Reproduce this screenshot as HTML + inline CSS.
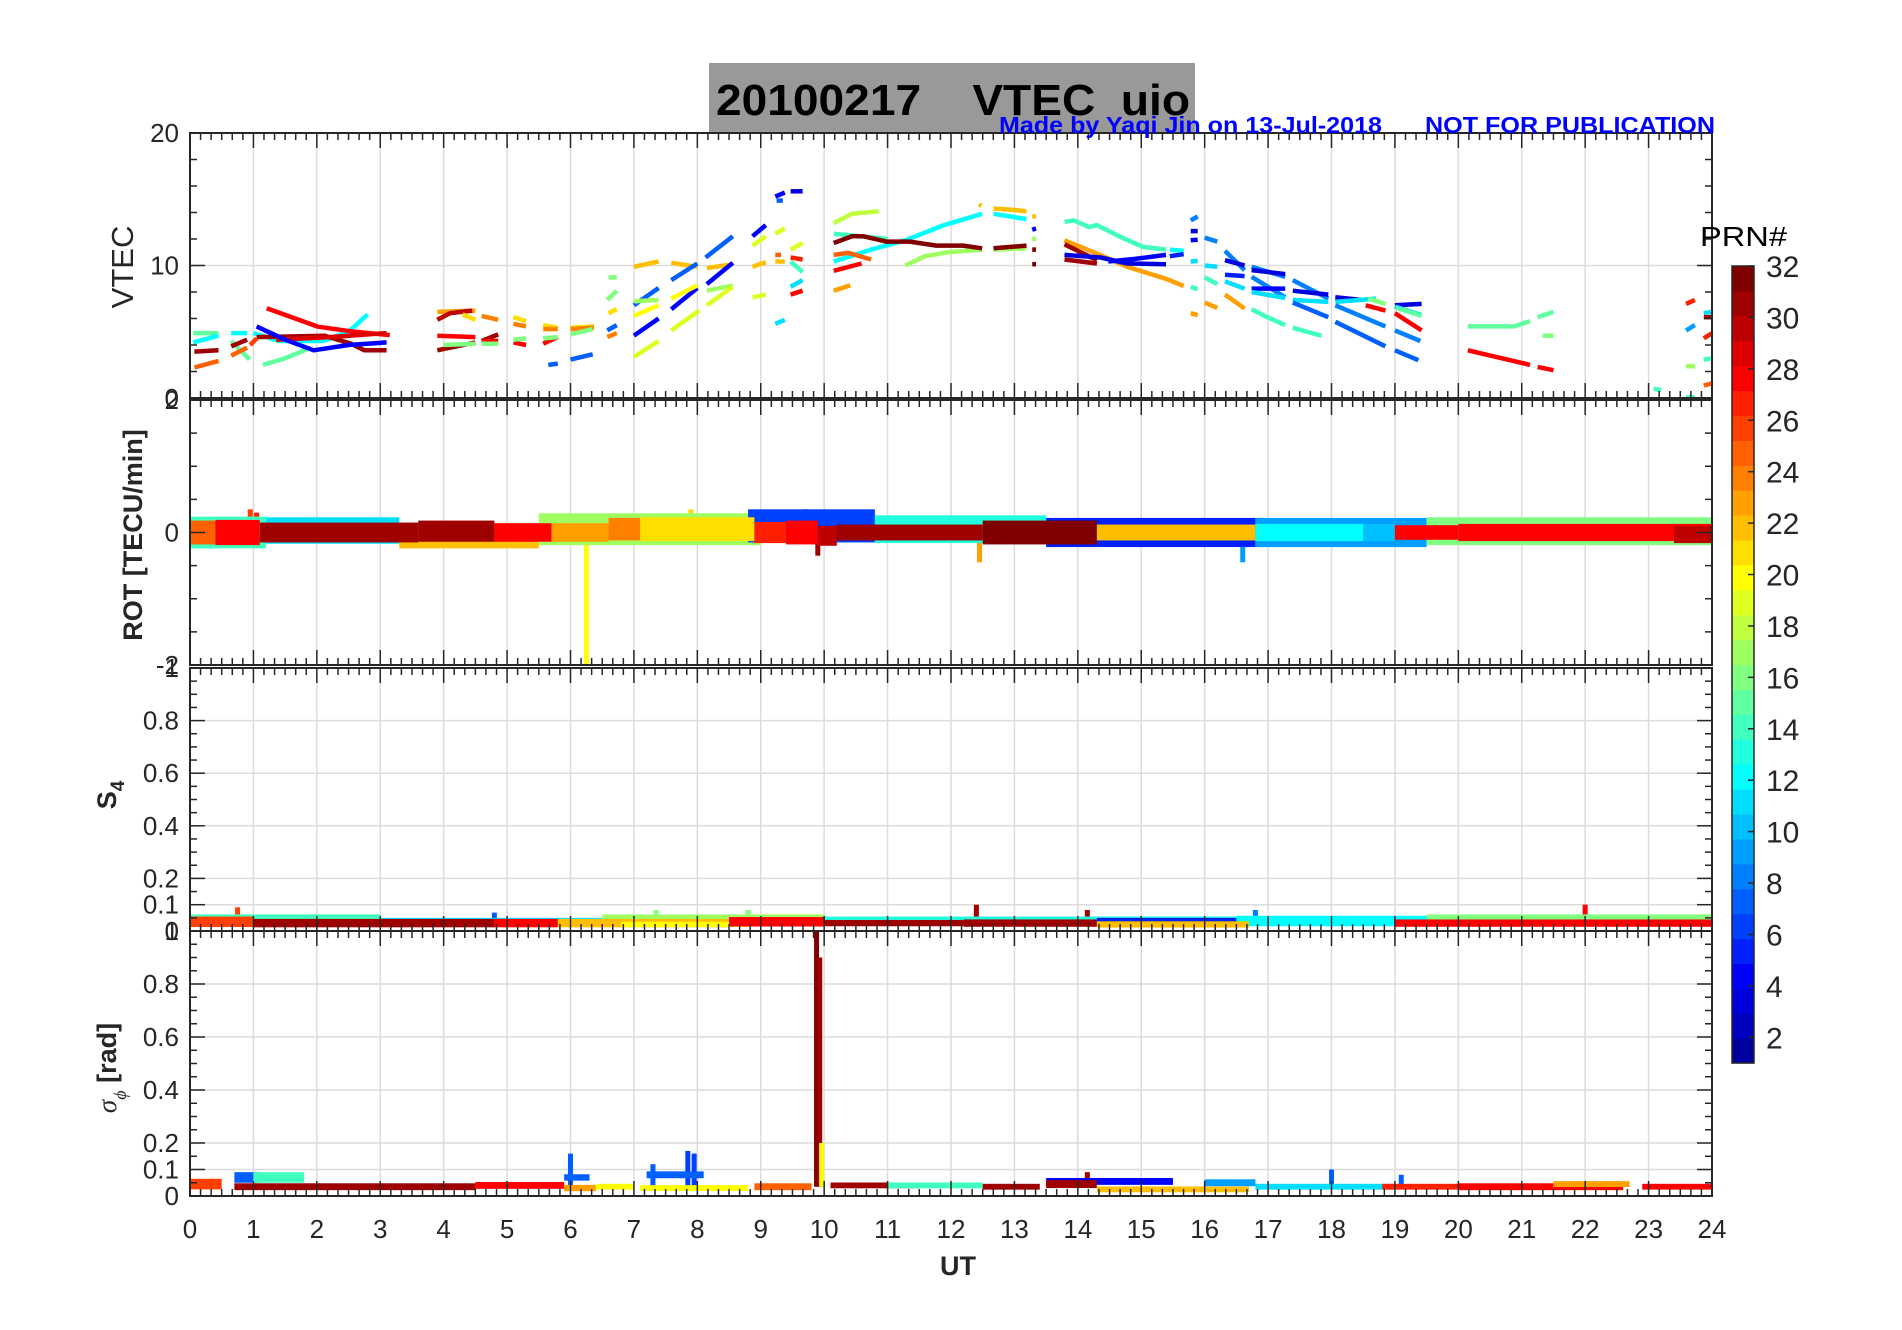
<!DOCTYPE html>
<html><head><meta charset="utf-8"><style>
html,body{margin:0;padding:0;background:#fff;}
svg{display:block;font-family:"Liberation Sans",sans-serif;}
</style></head>
<body>
<svg id="fig" width="1902" height="1330" viewBox="0 0 1902 1330" xmlns="http://www.w3.org/2000/svg">
<rect x="0" y="0" width="1902" height="1330" fill="#fff"/>
<rect x="709" y="63" width="486" height="70" fill="#999999"/>
<text x="716" y="115" font-size="44" font-weight="bold" fill="#000" textLength="474" lengthAdjust="spacingAndGlyphs" xml:space="preserve">20100217    VTEC  uio</text>
<g id="plots"></g>
<text x="999" y="133" font-size="23" font-weight="bold" fill="#0000ff" textLength="383" lengthAdjust="spacingAndGlyphs">Made by Yaqi Jin on 13-Jul-2018</text>
<text x="1425" y="133" font-size="23" font-weight="bold" fill="#0000ff" textLength="290" lengthAdjust="spacingAndGlyphs">NOT FOR PUBLICATION</text>
<text transform="translate(133,267) rotate(-90)" text-anchor="middle" font-size="31" fill="#262626">VTEC</text>
<text transform="translate(142,535) rotate(-90)" text-anchor="middle" font-size="27" font-weight="bold" fill="#262626">ROT [TECU/min]</text>
<text transform="translate(116,795) rotate(-90)" text-anchor="middle" font-size="27" font-weight="bold" fill="#262626">S<tspan font-size="19" dy="8">4</tspan></text>
<text transform="translate(116,1068) rotate(-90)" text-anchor="middle" font-size="27" font-weight="bold" fill="#262626"><tspan font-style="italic" font-weight="normal" font-family="Liberation Serif, serif">σ</tspan><tspan font-size="18" dy="10" font-style="italic" font-weight="normal" font-family="Liberation Serif, serif">ϕ</tspan><tspan dy="-10"> [rad]</tspan></text>
<text x="958" y="1275" text-anchor="middle" font-size="27" font-weight="bold" fill="#262626">UT</text>
<text x="1700" y="246" font-size="28" fill="#000" textLength="87" lengthAdjust="spacingAndGlyphs">PRN#</text>
</svg>
<script>
// ---------- data ----------
const hourTicks = [0,1,2,3,4,5,6,7,8,9,10,11,12,13,14,15,16,17,18,19,20,21,22,23,24];
const prnTicks = [2,4,6,8,10,12,14,16,18,20,22,24,26,28,30,32];
const vtecTicks = [0,10,20];
const rotTicks = [-2,0,2];
const s4Ticks = [0,0.1,0.2,0.4,0.6,0.8,1];
const sigmaTicks = [0,0.1,0.2,0.4,0.6,0.8,1];
// VTEC arcs: [prn, h1, v1, h2, v2, ...]
const vtecSegments = [
[15,0.05,4.9,0.45,4.9],[12,0.05,4.2,0.45,4.7],[31,0.07,3.5,0.45,3.6],[25,0.07,2.3,0.45,2.8],
[12,0.65,4.9,0.9,4.9],[15,0.65,4.3,0.94,2.9],[31,0.65,3.9,0.9,4.4],[25,0.65,3.2,0.9,3.8],[26,0.95,4.0,1.05,4.5],
[12,1.0,4.9,1.4,4.3,2.1,4.3,2.5,5.0,2.8,6.3],[15,1.15,2.5,1.5,3.0,1.85,3.7],
[28,1.21,6.77,2.02,5.38,2.6,5.0,3.15,4.75],[31,1.05,4.6,2.12,4.7,2.54,4.1,2.75,3.6,3.1,3.6],
[29,1.36,4.4,2.2,4.6,3.1,4.9],[4,1.05,5.4,1.5,4.4,1.95,3.6,2.5,4.0,3.1,4.2],
[23,3.9,6.5,4.5,6.6],[30,3.9,5.9,4.1,6.4,4.45,6.6],[21,4.3,6.3,4.5,5.9],[24,4.6,6.2,4.86,5.9],
[21,5.1,6.1,5.3,5.8],[24,5.1,5.6,5.3,5.4],[21,5.57,5.5,5.8,5.3],[24,5.57,5.2,5.8,5.2],
[21,6.0,5.3,6.37,5.4],[24,6.0,5.2,6.37,5.3],[31,3.9,3.6,4.5,4.2],[31,4.6,4.3,4.86,4.8],
[28,3.9,4.7,4.5,4.6],[28,4.6,4.3,4.86,4.3],[28,5.1,4.2,5.3,4.0],[28,5.57,4.1,5.8,4.6],
[16,4.0,4.0,4.5,4.1],[16,4.6,4.1,4.86,4.1],[16,5.1,4.4,5.3,4.5],[16,5.57,4.5,5.8,4.6],[16,6.0,4.8,6.35,5.2],
[7,5.65,2.5,5.8,2.6],[7,6.0,2.9,6.35,3.3],
[16,6.6,9.1,6.73,9.1],[16,6.58,7.4,6.73,8.1],[21,6.6,6.4,6.73,6.7],[7,6.58,5.1,6.73,5.5],[24,6.58,4.6,6.73,4.9],
[22,7.0,9.9,7.39,10.3],[22,7.59,10.2,8.0,9.9],[22,8.15,9.8,8.56,10.1],[22,8.87,9.9,9.08,10.25],[22,9.23,10.3,9.38,10.3],
[7,7.0,7.0,7.39,8.3],[7,7.59,8.9,8.0,10.15],[7,8.13,10.6,8.56,12.2],
[4,7.0,4.7,7.39,6.0],[4,7.59,6.7,8.0,8.3],[4,8.15,8.6,8.56,10.2],[4,8.87,12.2,9.08,13.05],
[17,7.0,7.3,7.39,7.4],[17,8.15,8.1,8.56,8.5],[20,7.0,6.2,7.39,7.0],[20,7.59,7.5,8.0,8.5],
[19,7.0,3.1,7.39,4.3],[19,7.59,5.1,8.03,6.6],[19,8.15,7.0,8.56,8.4],[19,8.87,7.6,9.08,7.8],
[19,8.87,11.5,9.08,12.2],[19,9.23,12.4,9.38,12.8],[19,9.47,11.2,9.66,11.7],
[4,9.23,15.2,9.38,15.5],[3,9.47,15.6,9.66,15.6],[7,9.25,14.9,9.35,14.9],[25,9.23,10.8,9.32,10.8],
[27,9.47,10.6,9.66,10.45],[14,9.47,10.3,9.66,9.5],[11,9.47,8.4,9.66,8.9],[11,9.23,5.6,9.38,5.9],[28,9.47,7.8,9.66,8.1],
[18,10.15,13.2,10.44,13.9,10.86,14.1],[14,10.15,12.4,10.56,12.2,11.0,12.0],
[12,10.15,10.3,10.74,11.2,11.28,11.9,11.89,13.05,12.49,13.9],[12,12.67,13.9,13.19,13.5],
[25,10.15,10.8,10.38,10.95,10.74,10.45],[28,10.15,9.6,10.59,10.15],[23,10.15,8.1,10.41,8.5],
[17,11.28,10.0,11.59,10.7,11.95,11.0,12.49,11.2],[17,12.67,11.2,13.19,11.3],
[32,10.15,11.7,10.44,12.2,10.62,12.2,10.98,11.8,11.35,11.8,11.77,11.5,12.19,11.5,12.49,11.3],
[32,12.67,11.3,13.19,11.5],[32,13.28,11.2,13.34,11.2],[32,13.28,10.1,13.34,10.1],
[22,12.44,14.6,12.48,14.5],[22,12.67,14.3,12.98,14.2,13.19,14.1],[22,13.28,13.7,13.34,13.7],
[4,13.28,12.7,13.34,12.8],[17,13.28,12.0,13.34,12.0],
[14,13.79,13.3,13.94,13.4,14.18,12.9,14.3,13.05,14.72,12.05,15.03,11.4,15.39,11.2],
[23,13.79,11.9,14.3,10.9,14.78,9.9,15.39,9.0,15.67,8.45],[31,13.79,11.6,14.3,10.4],[31,13.79,10.45,14.3,10.15],
[3,13.79,10.8,14.36,10.6,14.78,10.15,15.39,10.1],[4,14.48,10.3,14.9,10.5,15.39,10.8],
[12,15.45,11.2,15.67,11.1],[5,15.45,10.7,15.67,10.85],[8,15.78,13.4,15.89,13.7],[3,15.78,12.6,15.89,12.6],
[4,15.78,11.9,15.89,11.95],[11,15.78,10.3,15.89,10.35],[23,15.78,6.4,15.89,6.25],[14,15.78,8.4,15.89,8.2],
[14,16.0,9.1,16.2,8.6],[8,16.0,12.1,16.2,11.8],[11,16.0,10.0,16.2,9.9],[23,16.0,7.2,16.2,6.8],
[8,16.32,11.1,16.63,9.65],[3,16.32,10.4,16.63,10.0],[5,16.32,9.3,16.63,9.2],[11,16.32,8.8,16.63,8.25],[23,16.32,7.8,16.63,6.75],
[14,16.74,6.7,16.99,6.1,17.27,5.5],[14,17.39,5.3,17.84,4.7],[8,16.74,9.9,17.27,9.15],[3,16.74,9.65,17.27,9.35],
[8,16.74,9.15,17.27,7.6],[4,16.74,8.26,17.27,8.26],[11,16.74,8.0,17.27,7.55],
[8,17.39,8.9,17.95,7.5],[3,17.39,8.1,17.95,7.8],[11,17.39,7.4,17.95,7.25],[7,17.39,7.2,17.95,6.1],
[3,18.06,7.6,18.46,7.4],[11,18.06,7.25,18.7,7.5],[8,18.06,7.0,18.85,5.4],[7,18.06,5.75,18.85,3.9],
[28,18.54,7.0,18.85,6.6],[16,18.58,7.5,18.85,7.1],
[3,19.0,7.0,19.42,7.1],[11,19.0,6.9,19.42,6.25],[15,19.02,6.8,19.42,6.2],[28,19.0,6.4,19.42,5.1],
[8,19.0,5.1,19.4,4.3],[7,19.0,3.6,19.37,2.85],
[15,20.15,5.4,20.54,5.4,20.88,5.4,21.13,5.8],[15,21.25,6.1,21.5,6.5],[16,21.33,4.7,21.5,4.7],
[28,20.15,3.6,21.13,2.5],[28,21.25,2.35,21.5,2.1],
[14,23.08,0.7,23.2,0.6],[14,23.59,0.05,23.73,0.05],[27,23.59,7.1,23.73,7.4],[9,23.59,5.1,23.73,5.5],
[17,23.59,2.4,23.73,2.4],[11,23.87,6.4,24,6.5],[31,23.87,6.1,24,6.1],[27,23.87,4.5,24,4.9],
[14,23.87,2.9,24,3.0],[25,23.87,0.95,24,1.1]
];
// noisy bands: [startHour, endHour, prn, centre, halfWidth]
const rotBands = [
[0,1.2,14,0.0,0.24],[1.2,3.3,11,0.03,0.2],[3.3,5.5,22,-0.05,0.19],[5.5,9.0,17,0.05,0.24],
[8.8,10.8,6,0.1,0.25],[10.8,13.5,13,0.05,0.21],[13.5,16.8,5,0.0,0.22],[16.8,19.5,9,0.0,0.22],[19.5,24,16,0.02,0.21],
[0,0.4,25,0,0.18],[0.4,1.1,28,0,0.19],[1.1,3.6,31,0,0.15],[3.6,4.8,31,0.02,0.16],[4.8,5.7,28,0,0.14],
[5.7,6.6,23,0,0.14],[6.6,7.1,24,0.05,0.17],[7.1,8.9,21,0.05,0.18],[8.9,9.4,27,0.0,0.16],[9.4,9.9,28,0.0,0.18],
[9.9,10.2,30,-0.05,0.15],[10.2,12.5,31,0,0.12],[12.5,14.3,32,0.0,0.18],[14.3,16.8,22,0.0,0.12],
[16.8,18.5,12,0.0,0.13],[18.5,19.0,10,0,0.13],[19.0,20.0,28,0,0.11],[20.0,24,28,0,0.13],[23.4,24,30,-0.03,0.13]
];
// spikes: [hour, prn, peak]
const rotSpikes = [[6.25,20,-2.0],[12.45,23,-0.45],[16.6,9,-0.45],[9.9,31,-0.35],[1.05,27,0.3],[0.95,26,0.35],[9.7,5,0.35],[7.9,21,0.35]];
const s4Bands = [
[0,3,14,0.045,0.018],[3,6.5,11,0.035,0.015],[6.5,10,17,0.045,0.018],[10,16.5,13,0.04,0.015],[14.3,18,5,0.035,0.015],
[16.5,19.5,12,0.04,0.018],[19.5,24,16,0.045,0.018],
[0,1.0,26,0.035,0.02],[1.0,4.8,31,0.03,0.016],[4.8,5.8,28,0.03,0.016],[5.8,8.5,22,0.03,0.016],[6.8,8.8,20,0.025,0.01],
[8.5,10,28,0.035,0.018],[10,12.2,31,0.03,0.012],[12.2,14.3,31,0.03,0.014],[14.3,16.7,22,0.025,0.012],
[16.7,19,12,0.03,0.012],[19,24,28,0.03,0.014]
];
const s4Spikes = [[0.75,26,0.09],[12.4,31,0.1],[22.0,28,0.1],[14.15,31,0.08],[16.8,8,0.08],[4.8,7,0.07],[8.8,16,0.08],[7.35,16,0.08]];
const sigmaBands = [
[0,0.5,26,0.045,0.02],[0.7,1.1,7,0.07,0.02],[1.0,1.8,14,0.07,0.02],[0.7,3.2,31,0.035,0.013],[3.2,4.5,31,0.035,0.013],
[4.5,5.9,28,0.04,0.013],[5.9,6.3,7,0.07,0.012],[5.9,6.4,23,0.03,0.012],[6.4,7.0,20,0.035,0.011],[7.2,8.1,7,0.08,0.013],
[7.1,8.8,20,0.03,0.011],[8.9,9.8,25,0.035,0.013],[10.1,11.5,31,0.04,0.011],[11.0,12.5,14,0.04,0.011],[12.5,13.4,31,0.035,0.011],
[13.5,15.5,4,0.055,0.013],[13.5,14.3,31,0.045,0.015],[14.3,16.7,22,0.025,0.011],[16.0,16.8,9,0.05,0.013],
[16.8,19.0,11,0.035,0.011],[18.8,20,27,0.035,0.011],[20,22.6,28,0.035,0.013],[21.5,22.7,23,0.045,0.011],[22.9,24,28,0.035,0.011]
];
const sigmaSpikes = [[9.88,32,1.0],[9.93,31,0.9],[6.0,7,0.16],[7.3,7,0.12],[7.85,6,0.17],[7.95,6,0.16],[18.0,7,0.1],[19.1,7,0.08],[14.15,31,0.09],[9.96,20,0.2]];

// ---------- helpers ----------
const NS = "http://www.w3.org/2000/svg";
const root = document.getElementById('plots');
const X0 = 190, X1 = 1712;
const panels = [
 {name:'vtec', top:133, bot:398, min:0, max:20, ticks:vtecTicks, grid:[10], minor:2},
 {name:'rot', top:400, bot:665, min:-2, max:2, ticks:rotTicks, grid:[0], minor:0.5},
 {name:'s4', top:668, bot:931, min:0, max:1, ticks:s4Ticks, grid:[0.1,0.2,0.4,0.6,0.8], minor:0.05},
 {name:'sigma', top:931, bot:1196, min:0, max:1, ticks:sigmaTicks, grid:[0.1,0.2,0.4,0.6,0.8], minor:0.05}
];
function xs(h){ return X0 + h*(X1-X0)/24; }
function ys(p,v){ return p.bot - (v-p.min)/(p.max-p.min)*(p.bot-p.top); }
function jet(i){
  const u=[]; for(let k=1;k<=8;k++)u.push(k/8); for(let k=0;k<7;k++)u.push(1); for(let k=8;k>=1;k--)u.push(k/8);
  const g=(j)=> (j>=1&&j<=23)?u[j-1]:0;
  const r=g(i-12), gr=g(i-4), b=g(i+4);
  return 'rgb('+Math.round(r*255)+','+Math.round(gr*255)+','+Math.round(b*255)+')';
}
function mk(tag, attrs, parent){
  const e=document.createElementNS(NS,tag);
  for(const k in attrs) e.setAttribute(k,attrs[k]);
  (parent||root).appendChild(e); return e;
}
function fmt(v){ return (Math.abs(v-Math.round(v))<1e-9)? String(Math.round(v)) : String(v); }

panels.forEach((p,pi)=>{
  const g=mk('g',{});
  
  
  hourTicks.forEach(h=>{ if(h>0&&h<24){ const l=mk('line',{x1:xs(h),x2:xs(h),y1:p.top,y2:p.bot,stroke:'#dcdcdc','stroke-width':1.5},g);
      }});
  p.grid.forEach(v=>{ const l=mk('line',{x1:X0,x2:X1,y1:ys(p,v),y2:ys(p,v),stroke:'#dcdcdc','stroke-width':1.5},g);
      });
  p.g=g;
});

vtecSegments.forEach(s=>{
  const p=panels[0]; let pts=[];
  for(let i=1;i<s.length;i+=2) pts.push(xs(s[i]).toFixed(1)+','+ys(p,s[i+1]).toFixed(1));
  const e=mk('polyline',{points:pts.join(' '),fill:'none',stroke:jet(s[0]),'stroke-width':4.5,'stroke-linejoin':'round'},p.g);
  
  
});
function drawBands(p, bands, spikes, label){
  spikes.forEach(s=>{
    const e=mk('line',{x1:xs(s[0]),x2:xs(s[0]),y1:ys(p,p.min<0?0:0.035),y2:ys(p,s[2]),stroke:jet(s[1]),'stroke-width':5},p.g);
    
    
  });
  bands.forEach(b=>{
    const y1=ys(p,b[3]+b[4]), y2=ys(p,b[3]-b[4]);
    const e=mk('rect',{x:xs(b[0]),y:y1,width:xs(b[1])-xs(b[0]),height:y2-y1,fill:jet(b[2])},p.g);
    
    
  });
}
drawBands(panels[1], rotBands, rotSpikes, 'rot');
drawBands(panels[2], s4Bands, s4Spikes, 's4');
drawBands(panels[3], sigmaBands, sigmaSpikes, 'sigma');

panels.forEach((p,pi)=>{
  const g=p.g;
  const box=mk('rect',{x:X0,y:p.top,width:X1-X0,height:p.bot-p.top,fill:'none',stroke:'#262626','stroke-width':2},g);
   
  for(let k=0;k<=144;k++){
    const h=k/6, x=xs(h), major=(k%6===0), L=major?15:7;
    mk('line',{x1:x,x2:x,y1:p.bot,y2:p.bot-L,stroke:'#262626','stroke-width':1.5},g);
    mk('line',{x1:x,x2:x,y1:p.top,y2:p.top+L,stroke:'#262626','stroke-width':1.5},g);
  }
  const n=Math.round((p.max-p.min)/p.minor);
  for(let k=0;k<=n;k++){
    const v=p.min+k*p.minor, y=ys(p,v);
    const major=p.ticks.some(t=>Math.abs(t-v)<1e-9), L=major?15:7;
    mk('line',{x1:X0,x2:X0+L,y1:y,y2:y,stroke:'#262626','stroke-width':1.5},g);
    mk('line',{x1:X1,x2:X1-L,y1:y,y2:y,stroke:'#262626','stroke-width':1.5},g);
  }
  p.ticks.forEach(v=>{
    const t=mk('text',{x:179,y:ys(p,v)+9,'text-anchor':'end','font-size':26,fill:'#262626'},g);
    t.textContent=fmt(v);
    
    
  });
});
hourTicks.forEach(h=>{
  const t=mk('text',{x:xs(h),y:1238,'text-anchor':'middle','font-size':26,fill:'#262626'});
  t.textContent=String(h);
  
  
});

const cb=mk('g',{});


const CT=266, CB=1063, CX=1732, CW=22;
for(let i=1;i<=32;i++){
  const h=(CB-CT)/32;
  mk('rect',{x:CX,y:CB-i*h,width:CW,height:h+0.6,fill:jet(i)},cb);
}
mk('rect',{x:CX,y:CT,width:CW,height:CB-CT,fill:'none',stroke:'#262626','stroke-width':1.5},cb);
prnTicks.forEach(v=>{
  const y=CB-(v-1)/31*(CB-CT);
  mk('line',{x1:CX+CW-6,x2:CX+CW,y1:y,y2:y,stroke:'#262626','stroke-width':1.5},cb);
  const t=mk('text',{x:1766,y:y+11,'font-size':30,fill:'#262626'},cb);
  t.textContent=String(v);
  
  
});
</script>
</body></html>
